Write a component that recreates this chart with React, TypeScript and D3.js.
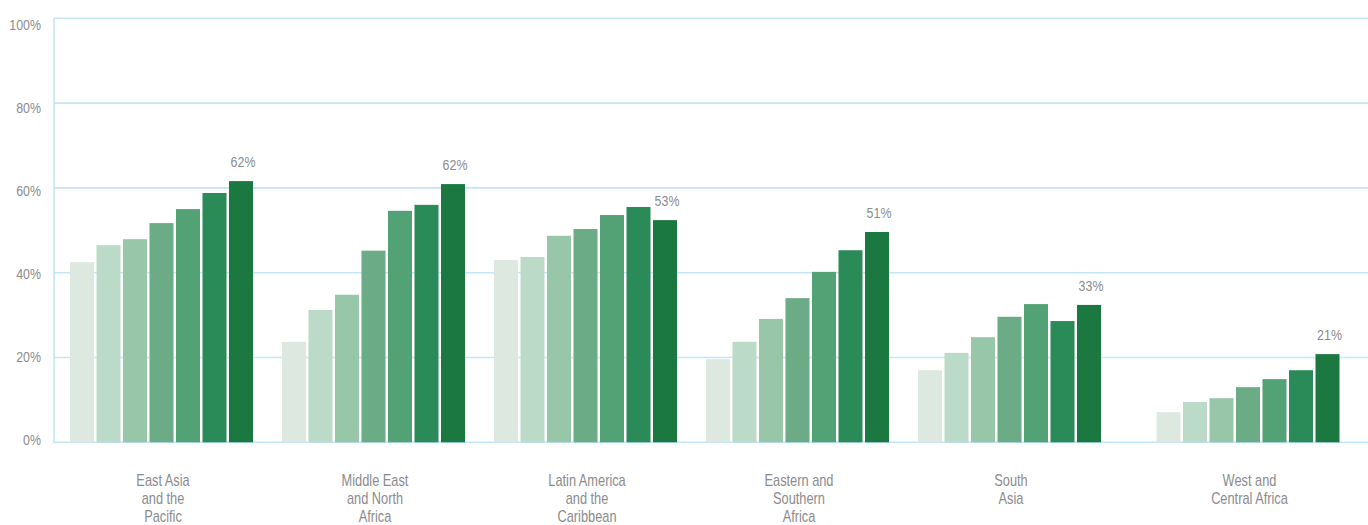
import React from "react";
import * as d3 from "d3";

// Regions (x categories); label lines split with "|"
const categories = [
  "East Asia|and the|Pacific",
  "Middle East|and North|Africa",
  "Latin America|and the|Caribbean",
  "Eastern and|Southern|Africa",
  "South|Asia",
  "West and|Central Africa",
];

// Seven successive survey rounds per region (null = empty slot)
const eastAsiaPacific = [42.5, 46.5, 47.9, 51.7, 55.0, 58.8, 61.6, null];
const middleEastNorthAfrica = [23.7, 31.2, 34.8, 45.2, 54.6, 56.0, 60.9, null];
const latinAmericaCaribbean = [43.0, 43.7, 48.7, 50.3, 53.6, 55.5, 52.4, null];
const easternSouthernAfrica = [19.6, 23.7, 29.1, 34.0, 40.2, 45.3, 49.6, null];
const southAsia = [17.0, 21.1, 24.8, 29.6, 32.6, 28.6, 32.4, null];
const westCentralAfrica = [null, 7.1, 9.5, 10.4, 13.0, 14.9, 17.0, 20.8];

const seriesByRegion = [
  eastAsiaPacific,
  middleEastNorthAfrica,
  latinAmericaCaribbean,
  easternSouthernAfrica,
  southAsia,
  westCentralAfrica,
];

// Label shown above the latest bar
const latestLabels = ["62%", "62%", "53%", "51%", "33%", "21%"];

const yTicks = [0, 20, 40, 60, 80, 100];

const palette = ["#dde9e0", "#bbdbc8", "#97c6a8", "#6bab86", "#53a275", "#2a8a58", "#1b7840"];

const W = 1368;
const H = 525;
const FONT = "'Liberation Sans', Arial, sans-serif";
const TEXT = "#8b8b8d";
const GRID = "#c2e6f7";
const NARROW = 0.8;

function NText(props: {
  x: number;
  y: number;
  size: number;
  anchor: "start" | "middle" | "end";
  baseline?: string;
  children: React.ReactNode;
}) {
  return (
    <g transform={`translate(${props.x},${props.y}) scale(${NARROW},1)`}>
      <text
        x={0}
        y={0}
        textAnchor={props.anchor}
        dominantBaseline={props.baseline as any}
        fontSize={props.size}
        fill={TEXT}
        fontFamily={FONT}
      >
        {props.children}
      </text>
    </g>
  );
}

export default function App() {
  const slots = d3.range(8);
  const groupStep = 212;
  const x0 = 68.75;
  const outer = d3
    .scaleBand<string>()
    .domain(categories)
    .range([x0, x0 + groupStep * categories.length])
    .paddingInner(0)
    .paddingOuter(0);
  const inner = d3
    .scaleBand<number>()
    .domain(slots)
    .range([0, outer.bandwidth()])
    .paddingInner(0.094)
    .paddingOuter(0.047);

  const y = d3.scaleLinear().domain([0, 100]).range([442.3, 18.3]);
  const yLabel = d3.scaleLinear().domain([0, 100]).range([439, 24.7]);
  const axisX = 54;

  return (
    <svg
      width={W}
      height={H}
      style={{ position: "absolute", left: 0, top: 0, background: "#fff" }}
    >
      {/* gridlines */}
      {yTicks.map((t) => (
        <line key={"g" + t} x1={axisX} x2={W} y1={y(t)} y2={y(t)} stroke={GRID} strokeWidth={1.6} />
      ))}
      <line x1={axisX} x2={axisX} y1={y(100) - 0.8} y2={y(0) + 0.8} stroke={GRID} strokeWidth={1.6} />
      {/* y tick labels */}
      {yTicks.map((t) => (
        <NText key={"t" + t} x={41} y={yLabel(t)} size={15.5} anchor="end" baseline="central">
          {t}%
        </NText>
      ))}
      {/* bars */}
      {categories.map((cat, gi) => {
        const vals = seriesByRegion[gi];
        const gx = outer(cat) as number;
        let rank = 0;
        const present: number[] = [];
        const bars = vals.map((v, si) => {
          if (v === null) return null;
          const color = palette[rank++];
          present.push(si);
          const bx = gx + (inner(si) as number);
          return (
            <rect
              key={si}
              x={bx}
              y={y(v)}
              width={inner.bandwidth()}
              height={y(0) - y(v)}
              fill={color}
            />
          );
        });
        const lastIdx = present[present.length - 1];
        const lastVal = vals[lastIdx] as number;
        const lastCenter = gx + (inner(lastIdx) as number) + inner.bandwidth() / 2;
        const first = gx + (inner(present[0]) as number);
        const groupCenter = (first + lastCenter + inner.bandwidth() / 2) / 2 + 1.5;
        const lines = cat.split("|");
        return (
          <g key={cat}>
            {bars}
            <NText x={lastCenter + 2} y={y(lastVal) - 14} size={15.5} anchor="middle">
              {latestLabels[gi]}
            </NText>
            {lines.map((ln, li) => (
              <NText key={li} x={groupCenter} y={486 + li * 17.8} size={16} anchor="middle">
                {ln}
              </NText>
            ))}
          </g>
        );
      })}
    </svg>
  );
}
